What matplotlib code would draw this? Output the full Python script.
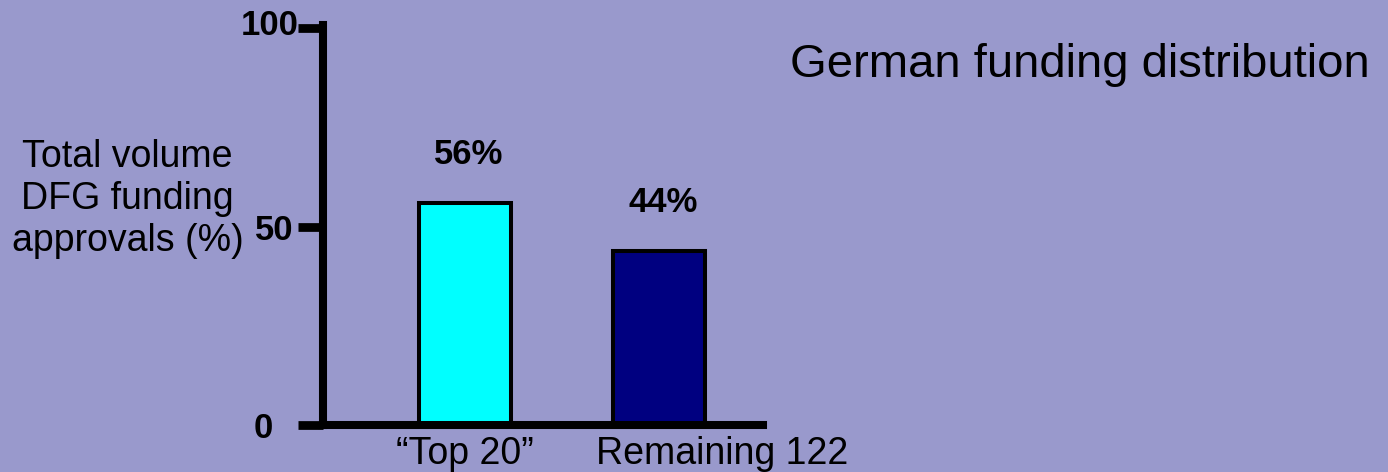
import matplotlib
matplotlib.use("Agg")
import matplotlib.pyplot as plt
from matplotlib.transforms import ScaledTranslation

plt.rcParams['font.family'] = ['Liberation Sans', 'DejaVu Sans']

# Data
categories = ["\u201cTop 20\u201d", "Remaining 122"]
values = [56, 44]
value_labels = ["56%", "44%"]
bar_colors = ["#00FFFF", "#000080"]
yticks = [0, 50, 100]
ytick_labels = ["0", "50", "100"]
ylabel = "Total volume\nDFG funding\napprovals (%)"
title = "German funding distribution"

BG = "#9999CC"
W, H, DPI = 1388, 472, 100
fig = plt.figure(figsize=(W / DPI, H / DPI), dpi=DPI, facecolor=BG)

ax = fig.add_axes([323 / W, 47 / H, 440 / W, 400.5 / H])
ax.set_facecolor(BG)
ax.patch.set_visible(False)

x = list(range(len(categories)))
bars = ax.bar(x, values, width=0.474, color=bar_colors, edgecolor="black",
              linewidth=2.9, zorder=1)

ax.set_xlim(-0.732, 1.536)
ax.set_ylim(0, 101)

for s in ("top", "right"):
    ax.spines[s].set_visible(False)
for s in ("left", "bottom"):
    ax.spines[s].set_linewidth(5.8)
    ax.spines[s].set_color("black")
    ax.spines[s].set_zorder(3)

ax.set_yticks(yticks)
ax.set_yticklabels(ytick_labels, fontsize=25, fontweight="bold")
ax.tick_params(axis="y", length=18, width=6.3, pad=3.5, color="black")
ax.set_xticks(x)
ax.set_xticklabels(categories, fontsize=27)
ax.tick_params(axis="x", length=0, pad=8)

# fine position adjustments of individual tick labels
ylabs = ax.get_yticklabels()
ylabs[0].set_transform(ylabs[0].get_transform() + ScaledTranslation(-20 / DPI, 0, fig.dpi_scale_trans))
ylabs[2].set_transform(ylabs[2].get_transform() + ScaledTranslation(5 / DPI, 6 / DPI, fig.dpi_scale_trans))
xlabs = ax.get_xticklabels()
xlabs[1].set_transform(xlabs[1].get_transform() + ScaledTranslation(63 / DPI, 0, fig.dpi_scale_trans))

for rect, lab in zip(bars, value_labels):
    ax.annotate(lab, xy=(rect.get_x() + rect.get_width() / 2, rect.get_height()),
                xytext=(4, 48), textcoords="offset pixels", ha="center", va="center",
                fontsize=25, fontweight="bold", annotation_clip=False)

fig.text(127.5 / W, 1 - 199 / H, ylabel, ha="center", va="center",
         multialignment="center", fontsize=27, linespacing=1.2)
fig.text(790 / W, 1 - 77 / H, title, ha="left", va="baseline", fontsize=34)

fig.savefig("out.png", dpi=DPI, facecolor=BG)
